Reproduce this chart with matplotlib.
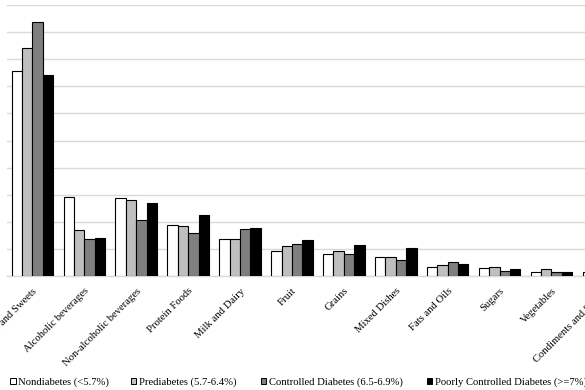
import matplotlib
matplotlib.use("Agg")
import matplotlib.pyplot as plt
from matplotlib.patches import Patch
import numpy as np

plt.rcParams['font.family'] = ['Liberation Serif', 'DejaVu Serif']

categories = ["Snacks and Sweets", "Alcoholic beverages", "Non-alcoholic beverages",
              "Protein Foods", "Milk and Dairy", "Fruit", "Grains", "Mixed Dishes",
              "Fats and Oils", "Sugars", "Vegetables", "Condiments and Sauces"]
series_names = ["Nondiabetes (<5.7%)", "Prediabetes (5.7-6.4%)",
                "Controlled Diabetes (6.5-6.9%)", "Poorly Controlled Diabetes (>=7%)"]
nondiabetes = [37.8, 14.5, 14.3, 9.4, 6.8, 4.6, 4.0, 3.5, 1.7, 1.5, 0.8, 0.7]
prediabetes = [42.1, 8.4, 14.0, 9.3, 6.8, 5.5, 4.7, 3.5, 2.0, 1.7, 1.2, 0.9]
controlled = [46.9, 6.8, 10.4, 8.0, 8.7, 5.85, 4.1, 2.95, 2.5, 1.0, 0.75, 0.6]
poorly = [37.0, 7.1, 13.4, 11.3, 8.85, 6.6, 5.8, 5.1, 2.15, 1.3, 0.8, 0.7]
colors = ["#ffffff", "#bfbfbf", "#7f7f7f", "#000000"]

FS = 7.7
W, H = 585, 390
fig = plt.figure(figsize=(W / 100, H / 100), dpi=100)
ax_left, ax_right = 6.5, 629.3
ax_bottom, ax_top = 276, 5
ax = fig.add_axes([ax_left / W, 1 - ax_bottom / H, (ax_right - ax_left) / W,
                   (ax_bottom - ax_top) / H])

x = np.arange(len(categories))
data = [nondiabetes, prediabetes, controlled, poorly]
bw = 0.2
for i, (vals, c) in enumerate(zip(data, colors)):
    ax.bar(x + (i - 1.5) * bw, vals, width=bw, color=c, edgecolor="black",
           linewidth=0.8, zorder=3)

ax.set_xlim(-0.5, len(categories) - 0.5)
ax.set_ylim(0, 50)
ax.set_yticks(np.arange(0, 51, 5))
ax.yaxis.grid(True, color="#d9d9d9", linewidth=1.0, zorder=0)
ax.tick_params(axis='y', left=False, labelleft=False)
ax.tick_params(axis='x', bottom=False, pad=4)
for s in ["top", "right", "left"]:
    ax.spines[s].set_visible(False)
ax.spines["bottom"].set_color("#d9d9d9")
ax.spines["bottom"].set_linewidth(1.0)
ax.set_xticks(x)
ax.set_xticklabels(categories, rotation=45, ha="right", rotation_mode="anchor",
                   fontsize=FS)

marker_x = [10, 130.5, 260.5, 426.5]
for name, c, mx in zip(series_names, colors, marker_x):
    fig.legend(handles=[Patch(facecolor=c, edgecolor="black", linewidth=0.7)],
               labels=[name], loc="center left", bbox_to_anchor=(mx / W, 1 - 382 / H),
               frameon=False, fontsize=FS, handlelength=0.55, handleheight=0.55,
               handletextpad=0.2, borderpad=0, borderaxespad=0)

fig.savefig("out.png", dpi=100)
